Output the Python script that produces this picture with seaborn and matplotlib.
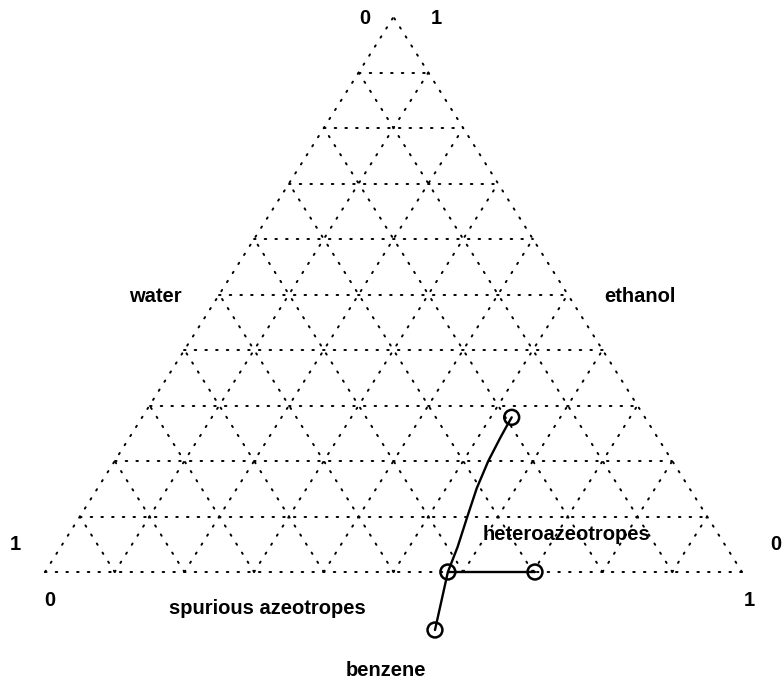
import numpy as np
import pandas as pd
import matplotlib
matplotlib.use("Agg")
import matplotlib.pyplot as plt
import seaborn as sns

sns.set_theme(style="white")
plt.rcParams["font.family"] = ["Liberation Sans", "DejaVu Sans"]

# Residue curve through the ternary diagram (x along base, y as fraction of height)
curve_x = [0.6696, 0.6633, 0.6528, 0.6360, 0.6194, 0.6059, 0.5921, 0.578, 0.5595]
curve_y = [0.2787, 0.2649, 0.2409, 0.2000, 0.1508, 0.0996, 0.0456, 0.000, -0.1045]

# Marked points: curve ends, base crossing, and heteroazeotrope tie-line end
marker_x = [0.6696, 0.578, 0.5595, 0.703]
marker_y = [0.2787, 0.000, -0.1045, 0.000]

tie_x = [0.578, 0.703]
tie_y = [0.000, 0.000]

n_div = 10

fig = plt.figure(figsize=(7.84, 6.82), dpi=100)
ax = fig.add_axes([0, 0, 1, 1])
ax.set_xlim(-45 / 697, (784 - 45) / 697)
ax.set_ylim(-110 / 555, 572 / 555)
ax.axis("off")

A = np.array([0.0, 0.0])   # bottom-left
B = np.array([1.0, 0.0])   # bottom-right
C = np.array([0.5, 1.0])   # apex

dot_kw = dict(color="black", lw=1.4, linestyle=(0, (0.8, 4.7)),
              dash_capstyle="round", zorder=1)

# Grid lines parallel to each side, including the edges
for i in range(0, n_div + 1):
    t = i / n_div
    # parallel to base
    p, q = A + t * (C - A), B + t * (C - B)
    ax.plot([p[0], q[0]], [p[1], q[1]], **dot_kw)
    # parallel to left side
    p, q = A + t * (B - A), C + t * (B - C)
    ax.plot([p[0], q[0]], [p[1], q[1]], **dot_kw)
    # parallel to right side
    p, q = B + t * (A - B), C + t * (A - C)
    ax.plot([p[0], q[0]], [p[1], q[1]], **dot_kw)

curve = pd.DataFrame({"x": curve_x, "y": curve_y})
sns.lineplot(data=curve, x="x", y="y", sort=False, estimator=None,
             color="black", lw=1.7, ax=ax, zorder=3)
sns.lineplot(x=tie_x, y=tie_y, sort=False, estimator=None,
             color="black", lw=1.7, ax=ax, zorder=3)
sns.scatterplot(x=marker_x, y=marker_y, s=115, facecolor="none",
                edgecolor="black", linewidth=1.8, ax=ax, zorder=4)


def px(x, y):
    """Convert pixel position to diagram coordinates."""
    return (x - 45) / 697, (572 - y) / 555


tk = dict(fontsize=14.5, fontweight="bold", ha="center", va="center", color="black")
ax.text(*px(365, 18), "0", **tk)
ax.text(*px(436, 18), "1", **tk)
ax.text(*px(15, 545), "1", **tk)
ax.text(*px(50, 601), "0", **tk)
ax.text(*px(749, 601), "1", **tk)
ax.text(*px(776, 545), "0", **tk)

ax.text(*px(155, 297), "water", **tk)
ax.text(*px(640, 297), "ethanol", **tk)
ax.text(*px(267, 608), "spurious azeotropes", **tk)
ax.text(*px(567, 535), "heteroazeotropes", **tk)
ax.text(*px(386, 671), "benzene", **tk)

fig.savefig("out.png", dpi=100)
